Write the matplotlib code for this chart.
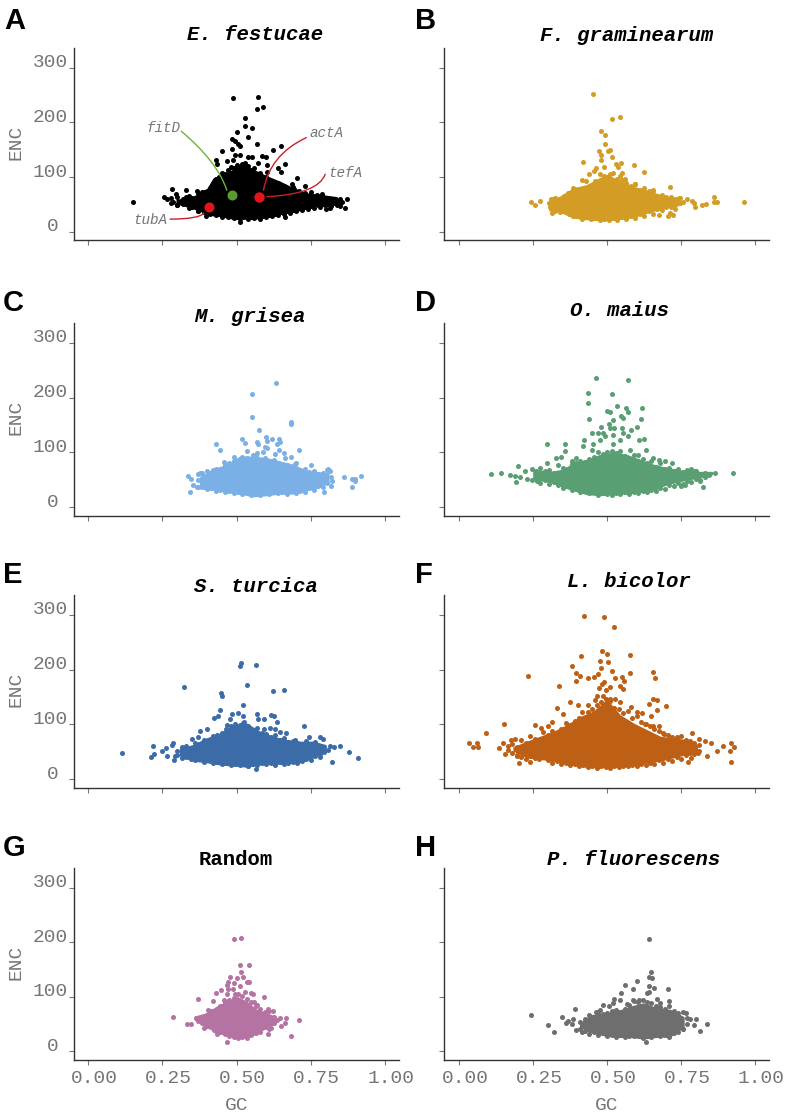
import matplotlib
matplotlib.use("Agg")
import matplotlib.pyplot as plt
from matplotlib.transforms import ScaledTranslation

# Values. *_gc / *_enc are the points that can be told apart,
# *_core_* is the outline of the solid mass where single points can't be read,
# *_edge_* are the points sitting on the upper and lower rim of that mass.

a_gc = [.152, .487, .573, .570, .588, .529, .529, .553, .503, .538, .484, .495, .506, .569, .649, .622, .450, .484,
        .512, .495, .512, .537, .553, .587, .600, .431, .467, .489, .529, .574, .602, .663, .640, .651, .433, .602,
        .705, .686, .731, .694, .283, .330, .296, .366, .382, .787, .255, .264, .285, .330, .300, .349, .371, .396,
        .510, .664, .872, .867, .849, .827, .816, .802, .774, .855]
a_enc = [55, 245, 246, 224, 229, 208, 193, 190, 183, 173, 169, 165, 160, 161, 157, 150, 148, 151,
         157, 140, 141, 137, 137, 138, 137, 131, 129, 131, 125, 126, 122, 123, 116, 110, 124, 110,
         98, 87, 84, 79, 79, 77, 69, 74, 73, 69, 63, 60, 54, 64, 49, 55, 38, 29,
         18, 27, 59, 44, 47, 58, 43, 41, 48, 55]
a_core_gc = [.298, .354, .399, .422, .444, .489, .512, .557, .602, .647, .692, .737, .782, .838]
a_core_hi = [58, 64, 76, 97, 103, 113, 122, 113, 101, 91, 79, 70, 67, 63]
a_core_lo = [52, 43, 34, 30, 29, 24, 24, 24, 27, 34, 37, 43, 49, 53]
a_edge_gc = [.28, .30, .32, .34, .35, .37, .38, .39, .40, .41, .42, .43, .44, .45, .46, .47, .48, .49, .50, .51, .52,
             .53, .54, .55, .56, .57, .58, .59, .60, .61, .62, .63, .64, .65, .66, .67, .68, .69, .70, .71, .72, .73,
             .74, .75, .76, .77, .78, .79, .80, .81, .82, .83, .84, .85]
a_edge_hi = [61, 63, 60, 66, 62, 70, 66, 72, 75, 80, 85, 96, 100, 108, 105, 112, 118, 116, 122, 110, 124, 118, 120,
             112, 116, 104, 108, 96, 100, 94, 92, 88, 90, 82, 84, 80, 76, 82, 72, 75, 68, 70, 66, 72, 64, 68, 62, 64,
             60, 62, 58, 60, 57, 59]
a_edge_lo = [52, 48, 50, 44, 46, 38, 42, 36, 38, 32, 34, 31, 33, 27, 30, 26, 29, 25, 27, 24, 26, 28, 24, 27, 25, 28,
             24, 29, 26, 31, 28, 33, 30, 36, 32, 38, 35, 40, 37, 43, 40, 45, 42, 47, 44, 50, 46, 51, 48, 50, 47, 52,
             49, 53]

b_gc = [.454, .516, .543, .480, .493, .492, .511, .504, .474, .481, .515, .480, .419, .546, .529, .536, .591, .490,
        .461, .455, .440, .624, .476, .550, .510, .414, .428, .714, .860, .963, .872, .860, .834, .820, .797, .794,
        .786, .771, .756, .744, .731, .724, .705, .713, .676, .242, .257, .273, .307, .314, .304, .316, .654, .593,
        .561, .544, .392, .369]
b_enc = [252, 207, 209, 184, 177, 160, 150, 148, 148, 140, 136, 132, 128, 126, 124, 118, 122, 118,
         116, 111, 106, 109, 105, 108, 105, 95, 93, 82, 63, 54, 54, 54, 51, 48, 46, 53,
         56, 59, 54, 62, 41, 30, 29, 35, 30, 54, 48, 57, 45, 34, 52, 60, 77, 88,
         96, 101, 79, 70]
b_core_gc = [.307, .341, .386, .431, .476, .499, .533, .589, .645, .702, .741]
b_core_hi = [58, 64, 79, 85, 98, 104, 95, 82, 73, 63, 58]
b_core_lo = [43, 37, 26, 23, 21, 21, 23, 27, 37, 45, 49]
b_edge_gc = [.31, .325, .34, .355, .37, .385, .40, .415, .43, .445, .46, .475, .49, .505, .52, .535, .55, .565, .58,
             .595, .61, .625, .64, .655, .67, .685, .70, .715, .73, .745]
b_edge_hi = [60, 62, 59, 65, 66, 80, 76, 78, 72, 84, 92, 90, 102, 100, 108, 96, 94, 90, 84, 88, 76, 80, 74, 75, 65,
             68, 63, 64, 60, 61]
b_edge_lo = [42, 38, 36, 39, 33, 28, 31, 24, 28, 23, 26, 22, 24, 21, 25, 22, 27, 23, 28, 25, 33, 28, 38, 32, 42, 39,
             45, 46, 48, 52]

c_gc = [.632, .553, .551, .682, .682, .577, .517, .601, .620, .642, .603, .647, .637, .568, .571, .530, .430, .445,
        .596, .604, .589, .642, .660, .711, .683, .662, .630, .568, .534, .557, .492, .458, .751, .698, .807, .816,
        .862, .920, .900, .889, .899, .891, .819, .821, .818, .795, .335, .345, .342, .352, .370, .377, .422, .366]
c_enc = [226, 207, 164, 156, 151, 141, 125, 128, 124, 124, 120, 118, 116, 118, 116, 117, 116, 105,
         109, 107, 101, 105, 98, 104, 92, 89, 96, 98, 102, 95, 91, 82, 76, 79, 70, 65,
         55, 57, 52, 52, 47, 36, 55, 48, 38, 27, 56, 51, 28, 40, 49, 62, 68, 36]
c_core_gc = [.377, .422, .467, .512, .557, .602, .647, .692, .737, .782, .810]
c_core_hi = [55, 69, 77, 92, 92, 89, 83, 77, 65, 63, 62]
c_core_lo = [34, 32, 28, 25, 20, 22, 25, 25, 31, 37, 46]
c_edge_gc = [.37, .385, .40, .415, .43, .445, .46, .475, .49, .505, .52, .535, .55, .565, .58, .595, .61, .625, .64,
             .655, .67, .685, .70, .715, .73, .745, .76, .775, .79, .805]
c_edge_hi = [60, 62, 66, 62, 70, 68, 76, 80, 85, 82, 92, 90, 88, 93, 86, 90, 84, 86, 80, 72, 76, 70, 80, 68, 70, 64,
             66, 60, 63, 68]
c_edge_lo = [36, 38, 33, 35, 30, 32, 28, 30, 26, 28, 24, 27, 22, 25, 22, 27, 24, 28, 25, 28, 24, 30, 26, 30, 28, 34,
             32, 38, 36, 44]

d_gc = [.464, .571, .437, .516, .435, .535, .563, .618, .572, .500, .510, .546, .553, .438, .616, .521, .505, .480,
        .510, .525, .550, .600, .582, .448, .468, .486, .553, .570, .624, .608, .493, .423, .521, .544, .297, .359,
        .420, .358, .630, .297, .328, .343, .394, .383, .654, .676, .696, .718, .198, .109, .140, .172, .188, .193,
        .207, .229, .264, .223, .863, .926, .825, .814, .784, .797, .764, .749, .454, .476, .521, .578, .448, .606]
d_enc = [235, 232, 209, 207, 190, 184, 180, 180, 173, 175, 174, 166, 163, 160, 161, 159, 151, 147,
         144, 145, 144, 146, 141, 135, 136, 136, 136, 130, 125, 122, 129, 123, 132, 123, 115, 116,
         111, 102, 105, 81, 90, 91, 90, 85, 90, 86, 84, 80, 75, 60, 63, 59, 57, 45,
         55, 51, 47, 66, 63, 62, 37, 48, 69, 66, 40, 38, 116, 123, 116, 104, 104, 95]
d_core_gc = [.251, .307, .352, .386, .431, .476, .521, .566, .611, .657, .702, .758, .814, .854]
d_core_hi = [68, 64, 68, 80, 86, 95, 99, 95, 86, 77, 71, 66, 64, 64]
d_core_lo = [52, 46, 37, 31, 24, 22, 25, 25, 28, 32, 42, 49, 55, 60]
d_edge_gc = [.245, .26, .275, .29, .305, .32, .335, .35, .365, .38, .395, .41, .425, .44, .455, .47, .485, .50, .515,
             .53, .545, .56, .575, .59, .605, .62, .635, .65, .665, .68, .695, .71, .725, .74, .755, .77, .785, .80,
             .815, .83, .845]
d_edge_hi = [69, 66, 71, 65, 68, 62, 76, 72, 70, 78, 80, 85, 83, 88, 92, 100, 96, 100, 103, 98, 102, 94, 90, 95, 84,
             88, 80, 84, 74, 80, 70, 72, 66, 69, 64, 68, 62, 65, 60, 63, 60]
d_edge_lo = [50, 53, 44, 49, 42, 46, 40, 35, 42, 32, 36, 28, 30, 25, 27, 22, 25, 24, 22, 26, 24, 27, 24, 28, 26, 29,
             27, 31, 29, 35, 33, 40, 38, 44, 42, 48, 46, 52, 50, 55, 58]

e_gc = [.115, .514, .511, .565, .322, .535, .661, .624, .449, .451, .522, .445, .436, .424, .485, .504, .523, .570,
        .615, .627, .478, .574, .591, .636, .726, .467, .523, .591, .613, .630, .647, .667, .378, .399, .349, .369,
        .219, .287, .281, .261, .247, .222, .211, .267, .292, .289, .746, .782, .793, .816, .848, .830, .880, .911,
        .821, .782, .810, .566, .697, .540, .321]
e_enc = [48, 212, 207, 209, 168, 171, 163, 160, 158, 151, 136, 127, 115, 112, 118, 120, 116, 118,
         117, 116, 110, 109, 109, 104, 97, 98, 102, 92, 93, 92, 86, 84, 88, 92, 73, 76,
         61, 66, 62, 57, 51, 45, 41, 43, 43, 35, 76, 76, 73, 60, 60, 59, 49, 39,
         31, 46, 54, 18, 71, 23, 55]
e_core_gc = [.309, .354, .399, .444, .489, .534, .579, .624, .669, .714, .759, .799]
e_core_hi = [55, 62, 74, 83, 98, 101, 86, 77, 71, 68, 68, 62]
e_core_lo = [43, 34, 31, 27, 25, 23, 27, 28, 29, 31, 40, 52]
e_edge_gc = [.30, .315, .33, .345, .36, .375, .39, .405, .42, .435, .45, .465, .48, .495, .51, .525, .54, .555, .57,
             .585, .60, .615, .63, .645, .66, .675, .69, .705, .72, .735, .75, .765, .78, .795]
e_edge_hi = [52, 58, 60, 56, 66, 64, 72, 70, 78, 80, 85, 92, 96, 100, 98, 104, 96, 88, 94, 84, 82, 76, 80, 72, 75,
             68, 70, 66, 64, 70, 62, 68, 60, 58]
e_edge_lo = [44, 38, 40, 36, 34, 38, 32, 34, 29, 31, 27, 29, 26, 28, 25, 27, 24, 28, 26, 29, 27, 30, 26, 31, 28, 30,
             32, 29, 33, 36, 34, 42, 40, 50]

f_gc = [.421, .491, .524, .483, .499, .577, .413, .477, .503, .381, .481, .516, .655, .394, .579, .233, .408, .468,
        .456, .436, .528, .550, .557, .662, .396, .488, .338, .482, .473, .545, .553, .510, .496, .465, .485, .459,
        .510, .527, .656, .669, .376, .544, .640, .700, .332, .581, .667, .403, .437, .352, .600, .617, .647, .414,
        .153, .255, .313, .091, .301, .276, .656, .675, .627, .787, .693, .035, .046, .062, .063, .136, .155, .150,
        .189, .176, .204, .197, .241, .313, .809, .831, .852, .920, .930, .916, .919, .839, .870, .891, .774, .783,
        .806, .735]
f_enc = [298, 295, 277, 234, 229, 226, 224, 215, 214, 207, 202, 197, 196, 193, 193, 189, 188, 191,
         186, 184, 184, 187, 179, 184, 179, 177, 170, 173, 166, 170, 165, 169, 162, 151, 151, 144,
         147, 146, 146, 145, 141, 141, 137, 134, 130, 132, 126, 136, 136, 118, 123, 120, 115, 123,
         101, 98, 105, 84, 96, 93, 97, 97, 101, 85, 83, 65, 59, 66, 59, 57, 46, 65,
         74, 72, 30, 43, 32, 37, 73, 70, 66, 65, 58, 52, 32, 43, 52, 61, 32, 38,
         48, 77]
f_core_gc = [.184, .229, .274, .319, .364, .409, .454, .499, .544, .589, .634, .679, .724, .769, .803]
f_core_hi = [58, 68, 77, 86, 98, 113, 123, 144, 116, 101, 89, 77, 74, 71, 62]
f_core_lo = [52, 40, 37, 34, 28, 24, 22, 22, 23, 25, 31, 34, 40, 46, 49]
f_edge_gc = [.165, .18, .195, .21, .225, .24, .255, .27, .285, .30, .315, .33, .345, .36, .375, .39, .405, .42, .435,
             .45, .465, .48, .495, .51, .525, .54, .555, .57, .585, .60, .615, .63, .645, .66, .675, .69, .705, .72,
             .735, .75, .765, .78, .795, .81]
f_edge_hi = [60, 64, 58, 72, 66, 78, 74, 72, 86, 80, 88, 84, 92, 102, 98, 106, 112, 110, 122, 128, 136, 140, 146,
             142, 130, 128, 120, 124, 112, 116, 104, 100, 96, 92, 88, 84, 80, 76, 74, 78, 72, 70, 66, 62]
f_edge_lo = [54, 48, 44, 40, 36, 42, 38, 36, 40, 34, 30, 33, 28, 30, 25, 27, 24, 26, 22, 24, 21, 23, 22, 21, 23, 22,
             24, 23, 26, 24, 28, 25, 30, 28, 34, 30, 36, 33, 40, 36, 44, 48, 46, 52]

g_gc = [.492, .514, .512, .542, .516, .478, .502, .522, .534, .541, .492, .472, .467, .472, .512, .489, .449, .431,
        .371, .592, .548, .529, .555, .495, .467, .422, .456, .559, .570, .605, .622, .405, .286, .333, .348, .363,
        .390, .425, .435, .467, .648, .666, .711, .664, .650, .684, .605, .615, .636]
g_enc = [207, 208, 159, 159, 145, 136, 135, 136, 128, 128, 126, 127, 121, 115, 120, 115, 112, 107,
         97, 100, 107, 109, 106, 105, 106, 92, 94, 90, 85, 77, 74, 76, 63, 51, 51, 62,
         43, 39, 32, 18, 62, 62, 58, 52, 46, 29, 32, 43, 57]
g_core_gc = [.360, .399, .433, .467, .501, .534, .568, .602, .630]
g_core_hi = [64, 70, 82, 91, 100, 91, 76, 70, 63]
g_core_lo = [58, 45, 36, 30, 24, 26, 33, 45, 51]
g_edge_gc = [.37, .385, .40, .415, .43, .445, .46, .475, .49, .505, .52, .535, .55, .565, .58, .595, .61, .625]
g_edge_hi = [62, 60, 66, 74, 72, 84, 88, 94, 98, 106, 102, 96, 90, 84, 78, 72, 74, 64]
g_edge_lo = [56, 52, 46, 48, 38, 36, 32, 28, 26, 24, 27, 25, 30, 34, 36, 44, 42, 52]

h_gc = [.641, .650, .641, .653, .600, .560, .643, .657, .587, .705, .548, .634, .643, .669, .524, .708, .589, .544,
        .608, .485, .505, .521, .566, .390, .244, .300, .321, .349, .361, .386, .369, .383, .463, .477, .767, .800,
        .836, .814, .794, .780, .631, .395, .414, .758, .679]
h_enc = [207, 146, 136, 135, 130, 121, 120, 117, 115, 115, 107, 107, 109, 97, 97, 92, 94, 94,
         95, 85, 84, 88, 87, 77, 67, 48, 35, 63, 53, 60, 56, 51, 73, 76, 70, 60,
         50, 38, 49, 59, 18, 39, 36, 41, 82]
h_core_gc = [.409, .443, .488, .533, .578, .623, .668, .713, .758]
h_core_hi = [51, 66, 70, 73, 82, 88, 79, 76, 63]
h_core_lo = [45, 36, 30, 27, 27, 24, 27, 28, 45]
h_edge_gc = [.41, .425, .44, .455, .47, .485, .50, .515, .53, .545, .56, .575, .59, .605, .62, .635, .65, .665, .68,
             .695, .71, .725, .74, .755, .77]
h_edge_hi = [54, 60, 66, 64, 72, 68, 70, 74, 76, 72, 78, 86, 92, 90, 94, 90, 88, 84, 88, 78, 84, 74, 70, 72, 62]
h_edge_lo = [42, 38, 32, 36, 30, 34, 28, 31, 26, 30, 27, 29, 28, 30, 25, 29, 26, 31, 28, 30, 27, 33, 36, 42, 50]

# marked genes in panel A
gene_names = ["fitD", "actA", "tefA", "tubA"]
gene_gc = [.484, .577, .577, .408]
gene_enc = [67, 63, 63, 46]

panels = [
    ("A", "E. festucae", "#000000", a_gc, a_enc, a_core_gc, a_core_hi, a_core_lo, a_edge_gc, a_edge_hi, a_edge_lo),
    ("B", "F. graminearum", "#D39D25", b_gc, b_enc, b_core_gc, b_core_hi, b_core_lo, b_edge_gc, b_edge_hi, b_edge_lo),
    ("C", "M. grisea", "#7AB0E5", c_gc, c_enc, c_core_gc, c_core_hi, c_core_lo, c_edge_gc, c_edge_hi, c_edge_lo),
    ("D", "O. maius", "#5A9E73", d_gc, d_enc, d_core_gc, d_core_hi, d_core_lo, d_edge_gc, d_edge_hi, d_edge_lo),
    ("E", "S. turcica", "#3C6CA8", e_gc, e_enc, e_core_gc, e_core_hi, e_core_lo, e_edge_gc, e_edge_hi, e_edge_lo),
    ("F", "L. bicolor", "#BD5F14", f_gc, f_enc, f_core_gc, f_core_hi, f_core_lo, f_edge_gc, f_edge_hi, f_edge_lo),
    ("G", "Random", "#B573A3", g_gc, g_enc, g_core_gc, g_core_hi, g_core_lo, g_edge_gc, g_edge_hi, g_edge_lo),
    ("H", "P. fluorescens", "#6E6E6E", h_gc, h_enc, h_core_gc, h_core_hi, h_core_lo, h_edge_gc, h_edge_hi, h_edge_lo),
]

x_ticks = [0, 0.25, 0.5, 0.75, 1]
x_tick_labels = ["0.00", "0.25", "0.50", "0.75", "1.00"]
y_ticks = [0, 100, 200, 300]

W, H = 789, 1114
MONO = "Liberation Mono"
GREY = "#757575"

# pixel layout of the figure
columns = [(73.5, 399.0), (444.3, 769.3)]
rows = [(48.0, 240.3), (323.0, 515.7), (595.0, 787.7), (868.3, 1060.0)]
letter_xy = [(4, 29), (415, 29), (3, 311), (415, 311), (3, 583), (415, 583), (3, 856), (415, 856)]
title_xy = [(254.7, 40), (627, 40.7), (250, 321.7), (619, 315.7), (256, 592), (628.7, 587), (236, 865), (633.7, 865)]


def arrange_axes(ax, fig, row, col):
    for side in ["top", "right"]:
        ax.spines[side].set_visible(False)
    for side in ["left", "bottom"]:
        ax.spines[side].set_linewidth(1.0)
        ax.spines[side].set_color("#333333")

    ax.set_xlim(-0.05, 1.048)
    ax.set_ylim(-15.7, 336)
    ax.set_xticks(x_ticks)
    ax.set_yticks(y_ticks)
    ax.tick_params(axis="both", length=3.6, width=0.8, color="#777777", labelcolor=GREY, labelsize=14)

    if row == 3:
        ax.set_xticklabels(x_tick_labels, fontfamily=MONO)
        ax.tick_params(axis="x", pad=3.5)
        shift = ScaledTranslation(6 / 100, 0, fig.dpi_scale_trans)
        for label in ax.get_xticklabels():
            label.set_transform(label.get_transform() + shift)
        ax.set_xlabel("GC", fontfamily=MONO, fontsize=14, color=GREY, labelpad=7)
    else:
        ax.set_xticklabels([])

    if col == 0:
        ax.set_yticklabels([str(v) for v in y_ticks], fontfamily=MONO)
        ax.tick_params(axis="y", pad=0.5)
        for value, label in zip(y_ticks, ax.get_yticklabels()):
            dx = -9 if value == 0 else 0
            shift = ScaledTranslation(dx / 100, 7 / 100, fig.dpi_scale_trans)
            label.set_transform(label.get_transform() + shift)
        ax.set_ylabel("ENC", fontfamily=MONO, fontsize=14, color=GREY)
        ax.yaxis.set_label_coords((24 - columns[0][0]) / (columns[0][1] - columns[0][0]), 0.51)
    else:
        ax.set_yticklabels([])


def plot_panel(ax, color, gc, enc, core_gc, core_hi, core_lo, edge_gc, edge_hi, edge_lo):
    ax.fill_between(core_gc, core_lo, core_hi, facecolor=color, edgecolor=color, linewidth=1, zorder=2)
    ax.scatter(edge_gc, edge_hi, s=13, color=color, linewidths=0, zorder=3)
    ax.scatter(edge_gc, edge_lo, s=13, color=color, linewidths=0, zorder=3)
    ax.scatter(gc, enc, s=13, color=color, linewidths=0, zorder=3, clip_on=False)


def mark_genes(ax):
    green, red = "#5A9A2E", "#E5141B"
    line_green, line_red = "#6FB33A", "#C8202A"
    ax.scatter(gene_gc[0], gene_enc[0], s=52, color=green, linewidths=0, zorder=5)
    ax.scatter(gene_gc[1:], gene_enc[1:], s=52, color=red, linewidths=0, zorder=5)

    # name, text centre, start of the leader, end of the leader, curve angles, colour
    leaders = [
        (gene_names[0], (.254, 190), (.313, 184), (.467, 76), -40, -72, line_green),
        (gene_names[1], (.805, 180), (.735, 172), (.591, 76), 25, 80, line_red),
        (gene_names[2], (.867, 108), (.799, 105), (.602, 64), 70, 3, line_red),
        (gene_names[3], (.209, 21), (.276, 23), (.390, 34), 0, 50, line_red),
    ]
    for name, text_xy, start, end, angle_a, angle_b, line_color in leaders:
        ax.text(text_xy[0], text_xy[1], name, family=MONO, style="italic", fontsize=10.3, color=GREY,
                ha="center", va="center", zorder=6)
        ax.annotate("", xy=end, xytext=start, zorder=6,
                    arrowprops=dict(arrowstyle="-", color=line_color, lw=1.0, shrinkA=0, shrinkB=0,
                                    connectionstyle="angle3,angleA={},angleB={}".format(angle_a, angle_b)))


fig = plt.figure(figsize=(W / 100, H / 100), dpi=100)

for i, panel in enumerate(panels):
    letter, title, color = panel[:3]
    row, col = i // 2, i % 2
    x0, x1 = columns[col]
    top, bottom = rows[row]
    ax = fig.add_axes([x0 / W, 1 - bottom / H, (x1 - x0) / W, (bottom - top) / H])
    plot_panel(ax, color, *panel[3:])
    arrange_axes(ax, fig, row, col)
    if i == 0:
        mark_genes(ax)

    fig.text(letter_xy[i][0] / W, 1 - letter_xy[i][1] / H, letter, family="Liberation Sans", weight="bold",
             fontsize=21, color="black", ha="left", va="baseline")
    style = "normal" if title == "Random" else "italic"
    fig.text(title_xy[i][0] / W, 1 - title_xy[i][1] / H, title, family=MONO, weight="bold", style=style,
             fontsize=14.9, color="black", ha="center", va="baseline")

plt.savefig("out.png", dpi=100)
